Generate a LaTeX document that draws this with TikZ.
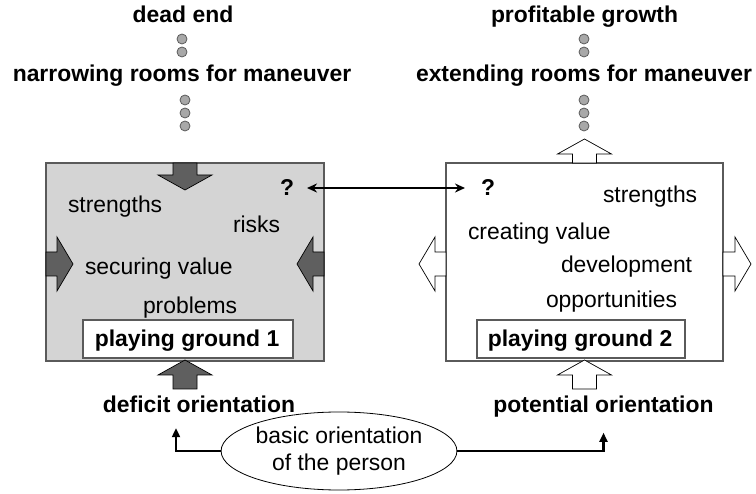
\documentclass[tikz,border=0pt]{standalone}
\usepackage{fontspec}
\setmainfont{Liberation Sans}
\usetikzlibrary{arrows.meta,shapes.geometric}
\definecolor{boxgray}{HTML}{D4D4D4}
\definecolor{darkarrow}{HTML}{5F5F5F}
\definecolor{edgegray}{HTML}{5A5A5A}
\definecolor{dotfill}{HTML}{A8A8A8}
\newcommand\blockarr[5]{\draw[blockline,fill=#3,shift={#1},rotate=#2] (0,-12) -- (#4,-12) -- (#4,-27) -- (#5,0) -- (#4,27) -- (#4,12) -- (0,12) -- cycle;}
\begin{document}
\begin{tikzpicture}[x=1pt,y=-1pt,
  font=\fontsize{22.9}{27}\selectfont,
  every node/.style={inner sep=0pt, outer sep=0pt},
  bigbox/.style={draw=edgegray, line width=1.2pt, minimum width=278pt, minimum height=198pt},
  pgbox/.style={draw=edgegray, fill=white, line width=1.3pt, minimum height=38pt},
  lbl/.style={anchor=base west},
  ttl/.style={anchor=base, font=\fontsize{22.9}{27}\selectfont\bfseries},
  dot/.style={circle, draw=edgegray, fill=dotfill, line width=0.8pt, minimum size=10pt},
  blockline/.style={draw=black, line width=0.7pt, line join=miter},
  conn/.style={line width=2.2pt, -{Triangle[length=9pt,width=8pt]}},
  dbl/.style={line width=2pt, {Stealth[length=10pt,width=9pt]}-{Stealth[length=10pt,width=9pt]}}
]
\useasboundingbox (0,0) rectangle (756,494);
% big areas
\node[bigbox, fill=boxgray] (area1) at (185,262) {};
\node[bigbox, fill=white, minimum width=277pt] (area2) at (584.5,262) {};
% top labels and dots
\node[ttl] (deadend) at (183,23) {dead end};
\node[dot] (l1) at (182,39) {};
\node[dot] (l2) at (182,52) {};
\node[ttl] (narrow) at (182,82) {narrowing rooms for maneuver};
\node[dot] (l3) at (185,100) {};
\node[dot] (l4) at (185,113) {};
\node[dot] (l5) at (185,126) {};
\node[ttl] (profit) at (584.5,23) {profitable growth};
\node[dot] (r1) at (584,39) {};
\node[dot] (r2) at (584,52) {};
\node[ttl] (extend) at (584,82) {extending rooms for maneuver};
\node[dot] (r3) at (584,100) {};
\node[dot] (r4) at (584,113) {};
\node[dot] (r5) at (584,126) {};
% block arrows
\blockarr{(185,163)}{-90}{darkarrow}{12}{27}
\blockarr{(46,264)}{0}{darkarrow}{11}{27}
\blockarr{(324,264)}{180}{darkarrow}{11}{27}
\blockarr{(584.5,163)}{90}{white}{9}{24}
\blockarr{(446,264)}{180}{white}{11}{27}
\blockarr{(723,264)}{0}{white}{12}{28}
% left area texts
\node[lbl, font=\fontsize{22.9}{27}\selectfont\bfseries] (qL) at (280,196) {?};
\node[lbl] (s1) at (68,213) {strengths};
\node[lbl] (risks) at (233,233) {risks};
\node[lbl] (secure) at (85,275) {securing value};
\node[lbl] (probl) at (143,314) {problems};
\node[pgbox, minimum width=210pt] (pg1) at (188,339) {};
\node[ttl] (pg1t) at (187,347) {playing ground 1};
% right area texts
\node[lbl, font=\fontsize{22.9}{27}\selectfont\bfseries] (qR) at (481,196) {?};
\node[lbl] (s2) at (603,203) {strengths};
\node[lbl] (create) at (468,240) {creating value};
\node[lbl] (devel) at (561,273) {development};
\node[lbl] (opp) at (546,308) {opportunities};
\node[pgbox, minimum width=208pt] (pg2) at (581,339) {};
\node[ttl] (pg2t) at (580,347) {playing ground 2};
% bottom block arrows
\blockarr{(185,389)}{90}{darkarrow}{14}{29}
\blockarr{(584.5,389)}{90}{white}{14}{29}
% double arrow between question marks
\draw[dbl, shorten <=13pt, shorten >=16pt] (qL.east) -- (qR.west);
% orientations
\node[ttl] (deficit) at (199,413) {deficit orientation};
\node[ttl] (potent) at (603.5,413) {potential orientation};
\node[ellipse, draw=black, line width=0.8pt, minimum width=198pt, minimum height=78pt, align=center] (basic) at (339,451) {basic orientation\\of the person};
\draw[conn, shorten >=15pt] (basic.west) -| ([xshift=-23pt]deficit.south);
\draw[conn, shorten >=15pt] (basic.east) -| (potent.south);
\end{tikzpicture}
\end{document}
